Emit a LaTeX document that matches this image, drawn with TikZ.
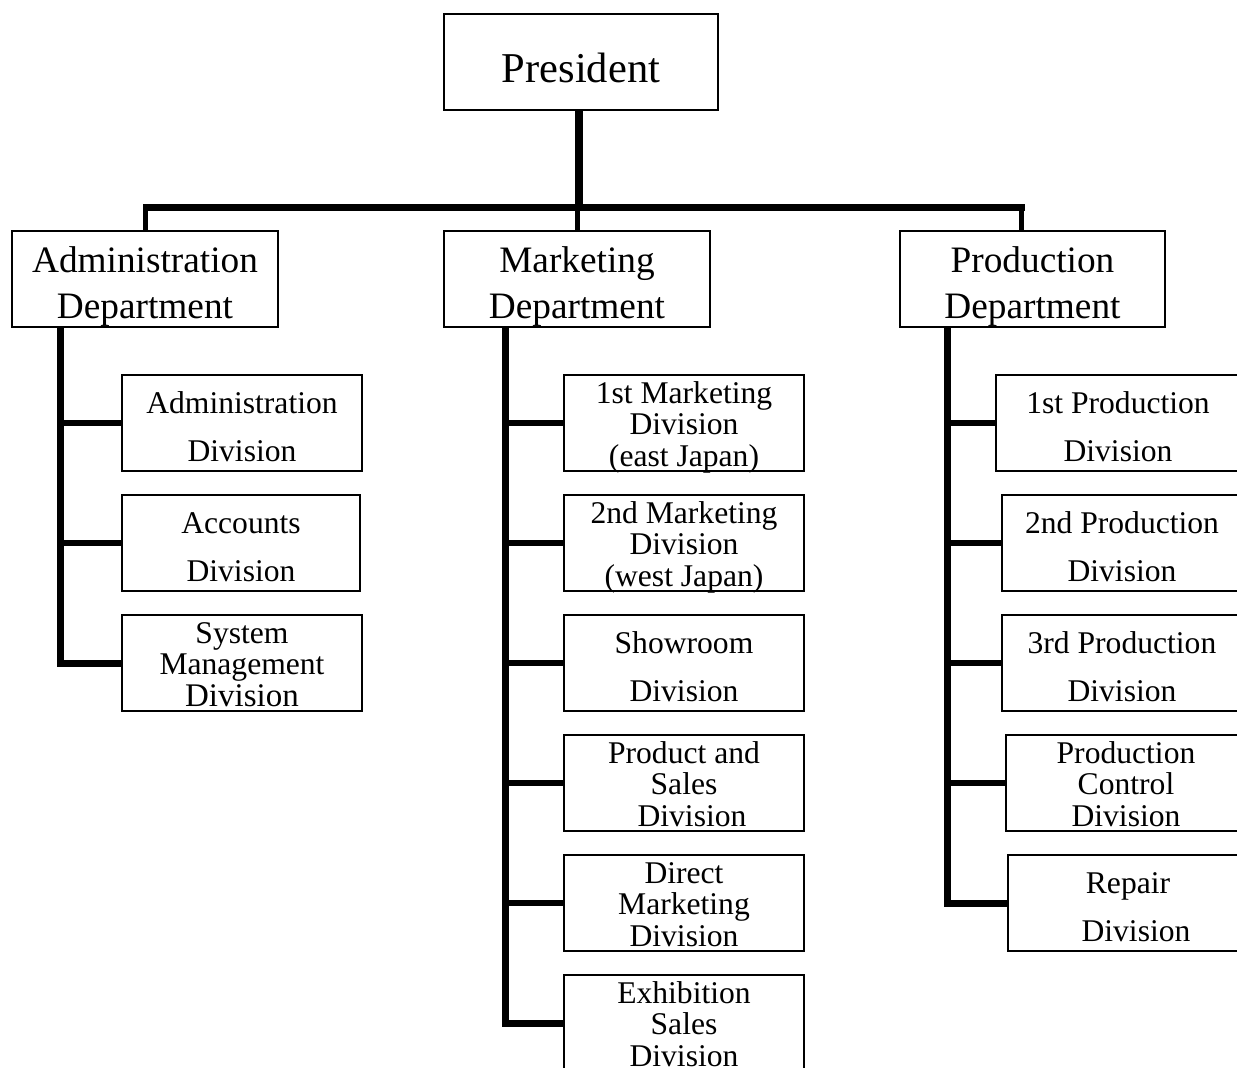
\documentclass[tikz,border=0pt]{standalone}
\usepackage{fontspec}
\setmainfont{Liberation Serif}
\newcommand{\PresTxt}[1]{\parbox[c][96pt][t]{274pt}{\centering\rule{0pt}{68pt}#1}}
\newcommand{\DeptTxt}[3]{\parbox[c][96pt][t]{#1}{\centering\rule{0pt}{41pt}#2\\#3}}
\newcommand{\DivTwo}[3]{\parbox[c][96pt][t]{#1}{\centering\rule{0pt}{38pt}#2\\#3}}
\newcommand{\DivThree}[4]{\parbox[c][96pt][t]{#1}{\centering\rule{0pt}{28pt}#2\\#3\\#4}}
\tikzset{
  orgbox/.style={draw, line width=1.3pt, inner sep=0pt},
  presbox/.style={orgbox, font=\fontsize{42.5}{48}\selectfont},
  deptbox/.style={orgbox, font=\fontsize{37.3}{46}\selectfont},
  divtwo/.style={orgbox, font=\fontsize{31.6}{48}\selectfont},
  divthree/.style={orgbox, font=\fontsize{31.6}{31.5}\selectfont},
  trunk/.style={line width=8pt},
  bus/.style={line width=7pt, line cap=rect},
  drop/.style={line width=5pt},
  spine/.style={line width=7pt, line join=miter},
  branch/.style={line width=6pt}
}
\begin{document}
\begin{tikzpicture}[x=1pt,y=-1pt]
\useasboundingbox (0,0) rectangle (1237,1068);
% top
\node[presbox] (pres) at (581,62) {\PresTxt{President}};
% departments
\node[deptbox] (admin) at (145,279) {\DeptTxt{266pt}{Administration}{Department}};
\node[deptbox] (mkt) at (577,279) {\DeptTxt{266pt}{Marketing}{Department}};
\node[deptbox] (prod) at (1032.5,279) {\DeptTxt{265pt}{Production}{Department}};
% administration divisions
\node[divtwo] (ad1) at (242,423) {\DivTwo{240pt}{Administration}{Division}};
\node[divtwo] (ad2) at (241,543) {\DivTwo{238pt}{Accounts}{Division}};
\node[divthree] (ad3) at (242,663) {\DivThree{240pt}{System}{Management}{{\fontsize{33}{31.5}\selectfont Division}}};
% marketing divisions
\node[divthree] (md1) at (684,423) {\DivThree{240pt}{1st Marketing}{Division}{(east Japan)}};
\node[divthree] (md2) at (684,543) {\DivThree{240pt}{2nd Marketing}{Division}{(west Japan)}};
\node[divtwo] (md3) at (684,663) {\DivTwo{240pt}{Showroom}{Division}};
\node[divthree] (md4) at (684,783) {\DivThree{240pt}{Product and}{Sales}{\hspace*{16pt}Division}};
\node[divthree] (md5) at (684,903) {\DivThree{240pt}{Direct}{Marketing}{Division}};
\node[divthree] (md6) at (684,1023) {\DivThree{240pt}{Exhibition}{Sales}{Division}};
% production divisions
\node[divtwo] (pd1) at (1118,423) {\DivTwo{244pt}{1st Production}{Division}};
\node[divtwo] (pd2) at (1122,543) {\DivTwo{240pt}{2nd Production}{Division}};
\node[divtwo] (pd3) at (1122,663) {\DivTwo{240pt}{3rd Production}{Division}};
\node[divthree] (pd4) at (1126,783) {\DivThree{240pt}{Production}{Control}{Division}};
\node[divtwo] (pd5) at (1128,903) {\DivTwo{240pt}{Repair}{\hspace*{16pt}Division}};
% connectors
\coordinate (busL) at (146,207);
\coordinate (busR) at (1021,207);
\draw[bus] (busL) -- (busR);
\draw[trunk] ([xshift=-2pt]pres.south) -- ([xshift=-2pt]pres.south |- busL);
\draw[drop] (admin.north) -- (admin.north |- busL);
\draw[drop] (mkt.north) -- (mkt.north |- busL);
\draw[drop] (busR) -- (busR |- prod.north);
% spines
\coordinate (sA) at ([xshift=49pt]admin.south west);
\coordinate (sM) at ([xshift=62pt]mkt.south west);
\coordinate (sP) at ([xshift=48pt]prod.south west);
\draw[spine] (sA) |- (ad3.west);
\draw[branch] (ad1.west) -- (ad1.west -| sA);
\draw[branch] (ad2.west) -- (ad2.west -| sA);
\draw[spine] (sM) |- (md6.west);
\foreach \n in {md1,md2,md3,md4,md5}
  \draw[branch] (\n.west) -- (\n.west -| sM);
\draw[spine] (sP) |- (pd5.west);
\foreach \n in {pd1,pd2,pd3,pd4}
  \draw[branch] (\n.west) -- (\n.west -| sP);
\end{tikzpicture}
\end{document}
